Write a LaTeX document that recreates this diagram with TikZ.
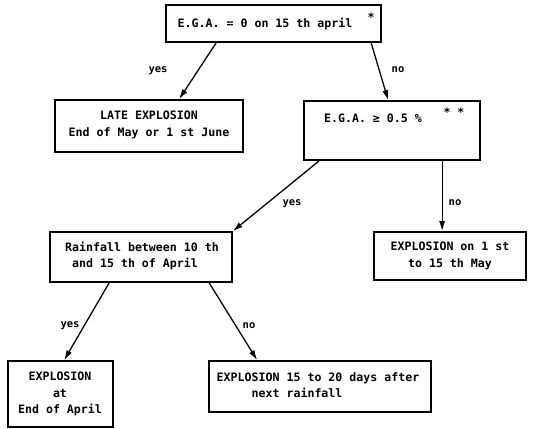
\documentclass[tikz,border=0pt]{standalone}
\usepackage{fontspec}
\setmonofont{DejaVu Sans Mono}
\usetikzlibrary{arrows.meta}
\begin{document}
\begin{tikzpicture}[x=1pt,y=-1pt,
  box/.style={draw,line width=1.7pt,rectangle,inner sep=0pt,align=center},
  txt/.style={font=\ttfamily\bfseries\fontsize{11.6}{16.5}\selectfont,align=center,inner sep=0pt},
  lab/.style={font=\ttfamily\bfseries\fontsize{10.5}{12}\selectfont,inner sep=0pt},
  arr/.style={line width=1.3pt,-{Latex[length=10pt,width=6pt]}}]
\useasboundingbox (0,0) rectangle (547,429);
% boxes
\node[box,minimum width=215pt,minimum height=37pt] (top) at (273.5,23.5) {};
\node[box,minimum width=188pt,minimum height=52pt] (late) at (149,126) {};
\node[box,minimum width=176pt,minimum height=59pt] (ega) at (392,130.5) {};
\node[box,minimum width=182pt,minimum height=50pt] (rain) at (141,257) {};
\node[box,minimum width=152pt,minimum height=48pt] (may) at (450,256) {};
\node[box,minimum width=105pt,minimum height=66pt] (april) at (60.5,394) {};
\node[box,minimum width=222pt,minimum height=51pt] (after) at (320,386.5) {};
% texts
\node[txt] (ttop) at (265,24) {E.G.A. = 0 on 15 th april};
\node[txt] (ttopstar) at (371,17) {*};
\node[txt] (tlate) at (149,125) {LATE EXPLOSION\\End of May or 1 st June};
\node[txt] (tega) at (373,118) {E.G.A. ≥ 0.5 \%};
\node[txt] (tegastar) at (454,112) {* *};
\node[txt,align=left] (train) at (142,256) {Rainfall between 10 th\\\ and 15 th of April};
\node[txt] (tmay) at (450,256) {EXPLOSION on 1 st\\to 15 th May};
\node[txt] (tapril) at (60,394) {EXPLOSION\\at\\End of April};
\node[txt,align=left] (tafter) at (318,385) {EXPLOSION 15 to 20 days after\\\ \ \ \ \ next rainfall};
% arrows
\draw[arr] ([xshift=51pt]top.south west) -- ([xshift=125pt]late.north west);
\draw[arr] ([xshift=206pt]top.south west) -- ([xshift=85pt]ega.north west);
\draw[arr] ([xshift=16pt]ega.south west) -- (rain.north east);
\draw[arr] ([xshift=139pt]ega.south west) -- ([xshift=69pt]may.north west);
\draw[arr] ([xshift=60pt]rain.south west) -- ([xshift=57pt]april.north west);
\draw[arr] ([xshift=160pt]rain.south west) -- ([xshift=49pt]after.north west);
% labels
\node[lab] (l1) at (158,71) {yes};
\node[lab] (l2) at (398,70) {no};
\node[lab] (l3) at (292,204) {yes};
\node[lab] (l4) at (455,203) {no};
\node[lab] (l5) at (70,326) {yes};
\node[lab] (l6) at (249,326) {no};
\end{tikzpicture}
\end{document}
